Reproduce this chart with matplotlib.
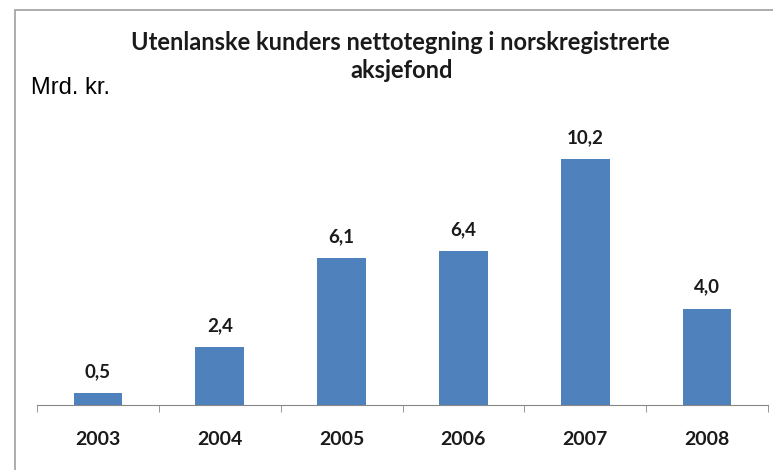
import numpy as np
import matplotlib.pyplot as plt
from matplotlib.patches import Rectangle

# data
years = ["2003", "2004", "2005", "2006", "2007", "2008"]
values = [0.5, 2.4, 6.1, 6.4, 10.2, 4.0]
value_labels = ["0,5", "2,4", "6,1", "6,4", "10,2", "4,0"]

W, H = 773, 470
fig = plt.figure(figsize=(W / 100, H / 100), dpi=100)

# chart frame
fig.patches.append(Rectangle((15 / W, -0.1), 1.2, 1.1 - 10 / H, transform=fig.transFigure,
                             fill=False, edgecolor="#a6a6a6", linewidth=1.3))

# axes placed in pixel terms: axis line at y=405, x from 37 to 768
ax = fig.add_axes([37 / W, (H - 405) / H, (768 - 37) / W, (405 - 110) / H])
x = np.arange(len(years))
ax.bar(x, values, width=0.4, color="#4f81bd")
ax.set_xlim(-0.5, len(years) - 0.5)
ax.set_ylim(0, 295 / 24.1)

for xi, v, lab in zip(x, values, value_labels):
    ax.annotate(lab, (xi, v), xytext=(0, 16), textcoords="offset pixels",
                ha="center", va="baseline", fontsize=13.5, fontweight="bold",
                family="Lato", color="#1a1a1a")

for s in ["left", "top", "right"]:
    ax.spines[s].set_visible(False)
ax.spines["bottom"].set_color("#868686")
ax.set_yticks([])
ax.set_xticks(x)
ax.set_xticklabels(years, fontsize=14, fontweight="bold", family="Lato", color="#1a1a1a")
ax.tick_params(axis="x", which="major", length=0, pad=19)
ax.set_xticks(np.arange(-0.5, len(years)), minor=True)
ax.tick_params(axis="x", which="minor", length=5, color="#868686", direction="out")

fig.text(400 / W, 1 - 50 / H, "Utenlanske kunders nettotegning i norskregistrerte",
         ha="center", va="baseline", fontsize=17, fontweight="bold", family="Lato",
         color="#1a1a1a")
fig.text(402 / W, 1 - 78 / H, "aksjefond",
         ha="center", va="baseline", fontsize=17, fontweight="bold", family="Lato",
         color="#1a1a1a")
fig.text(31 / W, 1 - 88 / H, "Mrd. kr.", ha="left", va="center", fontsize=17,
         family="Liberation Sans", color="black")

fig.savefig("out.png", dpi=100)
